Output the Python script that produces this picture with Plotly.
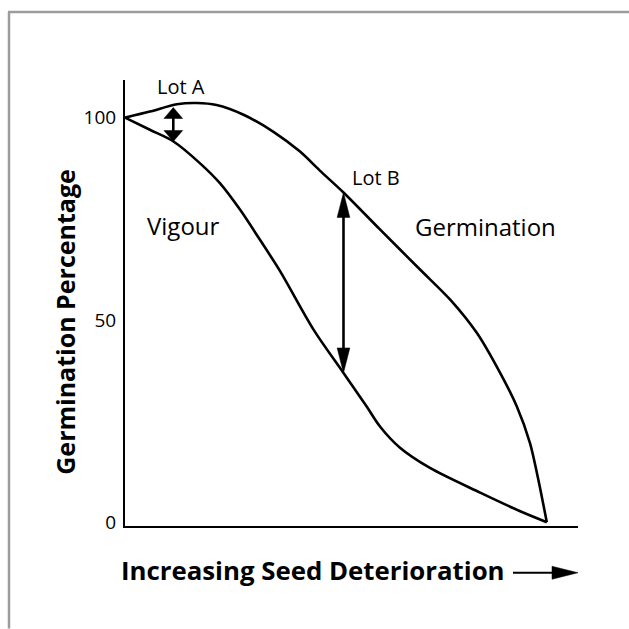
import plotly.graph_objects as go

# ---------------- data ----------------
germ_x = [0, 5.9, 12.3, 17.0, 21.7, 28.1, 35.2, 41.5, 46.2, 51.8, 60.5, 70.0, 77.1, 83.4, 88.1, 92.9, 96.0, 98.0, 100]
germ_y = [100, 101.5, 103.3, 103.6, 103.1, 100.7, 96.5, 91.6, 86.9, 81.5, 72.3, 62.4, 55.0, 46.8, 38.5, 28.6, 19.6, 10.5, 0]

vig_x = [0, 5.9, 11.5, 17.8, 22.5, 27.3, 32.0, 36.8, 44.7, 51.8, 57.3, 60.5, 65.2, 72.3, 84.2, 93.7, 100]
vig_y = [100, 97.0, 94.1, 88.7, 83.8, 77.2, 69.8, 62.0, 47.6, 36.9, 28.6, 23.6, 18.4, 13.4, 7.3, 2.7, 0]

lot_names = ["Lot A", "Lot B"]
lot_x = [11.45, 51.8]
lot_top = [102.5, 81.5]
lot_bottom = [94.1, 36.9]

label_texts = ["Lot A", "Lot B", "Vigour", "Germination"]
label_x = [13.2, 59.5, 13.8, 85.4]
label_y = [107.6, 85.2, 73.3, 73.2]

y_tick_vals = [0, 50, 100]
y_tick_text = ["0", "50", "100"]

x_title = "Increasing Seed Deterioration"
y_title = "Germination Percentage"

# ---------------- layout constants ----------------
W = H = 629
ML, MR, MT, MB = 125, 51, 80, 102.5
X_RANGE = [0, 107.4]
Y_RANGE = [-0.94, 109.3]
PW = W - ML - MR
PH = H - MT - MB
px_per_x = PW / (X_RANGE[1] - X_RANGE[0])
px_per_y = PH / (Y_RANGE[1] - Y_RANGE[0])

FONT = "Open Sans"
head_len_px = [11, 25]
head_w_px = [18.7, 12.7]


def paper_x(px):
    return (px - ML) / PW


def paper_y(py):
    return (H - MB - py) / PH


fig = go.Figure()

fig.add_trace(go.Scatter(x=germ_x, y=germ_y, mode="lines",
                         line=dict(color="black", width=2.6, shape="spline", smoothing=0.8),
                         hoverinfo="skip", showlegend=False))
fig.add_trace(go.Scatter(x=vig_x, y=vig_y, mode="lines",
                         line=dict(color="black", width=2.6, shape="spline", smoothing=0.9),
                         hoverinfo="skip", showlegend=False))

# double-headed arrows
for i in range(len(lot_x)):
    x0 = lot_x[i]
    hw = head_w_px[i] / 2 / px_per_x
    hl = head_len_px[i] / px_per_y
    top, bot = lot_top[i], lot_bottom[i]
    fig.add_trace(go.Scatter(x=[x0, x0], y=[top - hl * 0.8, bot + hl * 0.8], mode="lines",
                             line=dict(color="black", width=2.6), hoverinfo="skip", showlegend=False))
    fig.add_trace(go.Scatter(x=[x0, x0 - hw, x0 + hw, x0], y=[top, top - hl, top - hl, top],
                             mode="lines", fill="toself", fillcolor="black",
                             line=dict(color="black", width=0.5), hoverinfo="skip", showlegend=False))
    fig.add_trace(go.Scatter(x=[x0, x0 - hw, x0 + hw, x0], y=[bot, bot + hl, bot + hl, bot],
                             mode="lines", fill="toself", fillcolor="black",
                             line=dict(color="black", width=0.5), hoverinfo="skip", showlegend=False))

annotations = []
label_sizes = [20, 20, 24, 24]
for t, x, y, s in zip(label_texts, label_x, label_y, label_sizes):
    annotations.append(dict(text=t, x=x, y=y, xref="x", yref="y", showarrow=False,
                            xanchor="center", yanchor="middle",
                            font=dict(family=FONT, size=s, color="black")))

annotations.append(dict(text="<b>" + x_title + "</b>", x=paper_x(312.5), y=paper_y(571),
                        xref="paper", yref="paper", showarrow=False,
                        xanchor="center", yanchor="middle",
                        font=dict(family=FONT, size=25.8, color="black")))
annotations.append(dict(text="<b>" + y_title + "</b>", x=paper_x(65), y=paper_y(322),
                        xref="paper", yref="paper", showarrow=False, textangle=-90,
                        xanchor="center", yanchor="middle",
                        font=dict(family=FONT, size=25, color="black")))

shapes = []
# arrow next to x title
shapes.append(dict(type="line", xref="paper", yref="paper",
                   x0=paper_x(513), x1=paper_x(555), y0=paper_y(573.3), y1=paper_y(573.3),
                   line=dict(color="black", width=2.2)))
shapes.append(dict(type="path", xref="paper", yref="paper",
                   path="M {a},{b} L {c},{d} L {c},{e} Z".format(
                       a=paper_x(578), b=paper_y(573.3), c=paper_x(552),
                       d=paper_y(573.3 - 6.5), e=paper_y(573.3 + 6.5)),
                   fillcolor="black", line=dict(color="black", width=0.5)))
# grey frame (left and top)
shapes.append(dict(type="line", xref="paper", yref="paper",
                   x0=paper_x(9), x1=paper_x(9), y0=paper_y(12), y1=paper_y(629),
                   line=dict(color="#9c9c9c", width=2.5)))
shapes.append(dict(type="line", xref="paper", yref="paper",
                   x0=paper_x(8), x1=paper_x(629), y0=paper_y(12), y1=paper_y(12),
                   line=dict(color="#9c9c9c", width=2.5)))

fig.update_layout(
    width=W, height=H,
    margin=dict(l=ML, r=MR, t=MT, b=MB, pad=0),
    paper_bgcolor="white", plot_bgcolor="white",
    showlegend=False,
    annotations=annotations,
    shapes=shapes,
    xaxis=dict(range=X_RANGE, showgrid=False, zeroline=False, showline=True,
               linecolor="black", linewidth=2, showticklabels=False, ticks="",
               fixedrange=True),
    yaxis=dict(range=Y_RANGE, showgrid=False, zeroline=False, showline=True,
               linecolor="black", linewidth=2, tickmode="array",
               tickvals=y_tick_vals, ticktext=y_tick_text, ticks="",
               ticklabelstandoff=3,
               tickfont=dict(family=FONT, size=19, color="black"),
               fixedrange=True),
)

fig.write_html("out.html", config={"displayModeBar": False},
               post_script=("document.body.style.margin='0';"
                            "document.body.style.overflow='hidden';"
                            "document.documentElement.style.overflow='hidden';"
                            "document.body.style.background='white';"))
